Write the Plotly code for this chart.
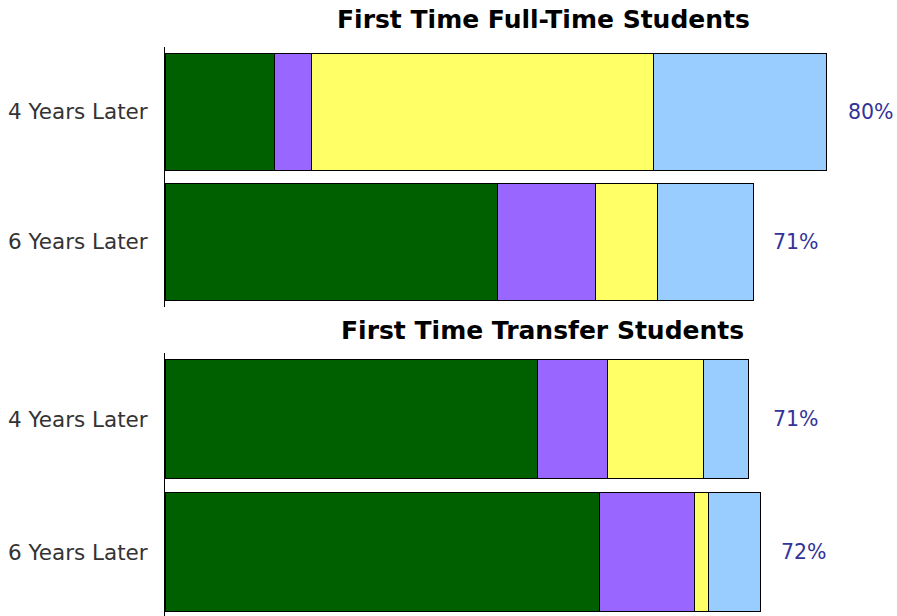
import plotly.graph_objects as go

categories = ["4 Years Later", "6 Years Later"]

# First Time Full-Time Students
ft_green = [13.3, 40.2]
ft_purple = [4.4, 11.8]
ft_yellow = [41.4, 7.5]
ft_blue = [20.9, 11.7]
ft_totals = [80, 71]

# First Time Transfer Students
tr_green = [45.1, 52.5]
tr_purple = [8.4, 11.5]
tr_yellow = [11.6, 1.7]
tr_blue = [5.5, 6.3]
tr_totals = [71, 72]

titles = ["First Time Full-Time Students", "First Time Transfer Students"]
colors = ["#006000", "#9966ff", "#ffff66", "#99ccff"]

W, H = 897, 616
L = 165

fig = go.Figure()

groups = [
    ([ft_green, ft_purple, ft_yellow, ft_blue], ft_totals, "x", "y"),
    ([tr_green, tr_purple, tr_yellow, tr_blue], tr_totals, "x2", "y2"),
]

for series, totals, xa, ya in groups:
    for vals, col in zip(series, colors):
        fig.add_trace(go.Bar(
            y=categories, x=vals, orientation="h",
            marker=dict(color=col, line=dict(color="#000000", width=1)),
            width=0.9, xaxis=xa, yaxis=ya, showlegend=False, hoverinfo="x",
        ))
    for cat, tot in zip(categories, totals):
        fig.add_annotation(
            x=tot, y=cat, xref=xa, yref=ya, text=f"{tot}%",
            showarrow=False, xanchor="left", xshift=19,
            font=dict(family="DejaVu Sans", size=20.5, color="#333399"),
        )

title_pos = [(543, 20), (542, 330)]
for t, (px, py) in zip(titles, title_pos):
    fig.add_annotation(
        x=(px - L) / (W - L), y=(H - py) / H, xref="paper", yref="paper",
        text="<b>" + t + "</b>", showarrow=False, xanchor="center", yanchor="middle",
        font=dict(family="DejaVu Sans", size=25, color="#000000"),
    )

xr = [0, (W - L) / 8.27]
xcommon = dict(range=xr, showgrid=False, zeroline=False, showline=False,
               showticklabels=False, ticks="", fixedrange=True)
ycommon = dict(showgrid=False, zeroline=False, showline=True, linecolor="#000000",
               linewidth=1, ticks="", ticklabelstandoff=12,
               tickfont=dict(family="DejaVu Sans", size=21.5, color="#333333"))

fig.update_layout(
    width=W, height=H,
    margin=dict(l=L, r=0, t=0, b=0),
    paper_bgcolor="#ffffff", plot_bgcolor="#ffffff",
    barmode="stack", bargap=0.1,
    xaxis=dict(domain=[0, 1], anchor="y", **xcommon),
    xaxis2=dict(domain=[0, 1], anchor="y2", **xcommon),
    yaxis=dict(domain=[(H - 306.5) / H, (H - 46.5) / H], anchor="x",
               range=[1.5, -0.5], type="category", **ycommon),
    yaxis2=dict(domain=[0, (H - 352.5) / H], anchor="x2",
                range=[1.481, -0.5], type="category", **ycommon),
)

fig.write_html("out.html", config={"displayModeBar": False},
               post_script="document.body.style.margin='0';")
